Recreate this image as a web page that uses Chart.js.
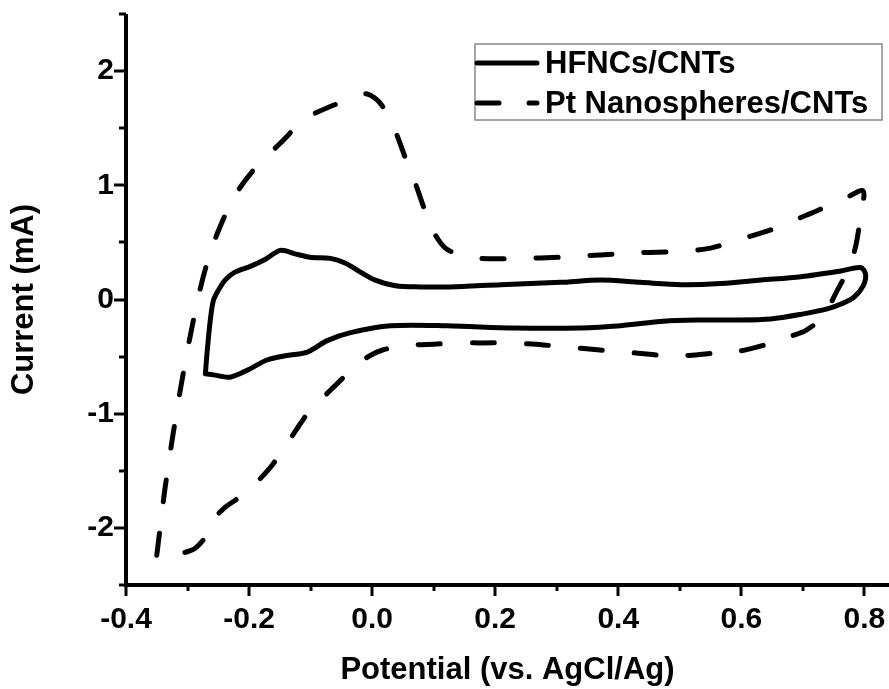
<!DOCTYPE html>
<html>
<head>
<meta charset="utf-8">
<script src="https://cdn.jsdelivr.net/npm/chart.js@4.4.1/dist/chart.umd.min.js"></script>
<style>
  html, body { margin: 0; padding: 0; background: #fff; }
  #wrap { width: 889px; height: 689px; position: relative; }
</style>
</head>
<body>
<div id="wrap"><canvas id="cv"></canvas></div>
<script>
// HFNCs/CNTs cyclic voltammogram (potential V, current mA)
const hfncPotential = [-0.271, -0.268, -0.263, -0.258, -0.250, -0.239, -0.223, -0.198, -0.174, -0.149,
  -0.125, -0.101, -0.068, -0.044, -0.019, 0.005, 0.038, 0.078, 0.127, 0.209,
  0.306, 0.371, 0.436, 0.502, 0.567, 0.632, 0.697, 0.762, 0.794, 0.802,
  0.798, 0.783, 0.762, 0.741, 0.697, 0.648, 0.583, 0.534, 0.474, 0.404,
  0.339, 0.230, 0.122, 0.030, -0.035, -0.073, -0.105, -0.138, -0.171, -0.203,
  -0.231, -0.258, -0.271];
const hfncCurrent = [-0.65, -0.45, -0.18, -0.01, 0.08, 0.17, 0.24, 0.29, 0.35, 0.43,
  0.40, 0.37, 0.36, 0.32, 0.24, 0.17, 0.12, 0.11, 0.11, 0.13,
  0.15, 0.17, 0.15, 0.13, 0.14, 0.17, 0.20, 0.25, 0.28, 0.22,
  0.12, 0.02, -0.04, -0.08, -0.13, -0.17, -0.18, -0.18, -0.19, -0.23,
  -0.25, -0.25, -0.23, -0.23, -0.29, -0.36, -0.46, -0.49, -0.53, -0.62,
  -0.68, -0.66, -0.65];

// Pt Nanospheres/CNTs cyclic voltammogram
const ptPotential = [-0.350, -0.345, -0.337, -0.325, -0.312, -0.296, -0.280, -0.267, -0.250, -0.223,
  -0.190, -0.149, -0.109, -0.068, -0.027, -0.008, 0.013, 0.035, 0.054, 0.070,
  0.087, 0.100, 0.119, 0.144, 0.176, 0.241, 0.306, 0.371, 0.436, 0.502,
  0.550, 0.599, 0.643, 0.684, 0.724, 0.770, 0.798, 0.794, 0.786, 0.775,
  0.754, 0.733, 0.705, 0.681, 0.643, 0.599, 0.555, 0.515, 0.474, 0.432,
  0.388, 0.344, 0.303, 0.261, 0.220, 0.176, 0.135, 0.106, 0.062, 0.038,
  0.018, -0.003, -0.019, -0.044, -0.065, -0.084, -0.101, -0.117, -0.133, -0.149,
  -0.161, -0.182, -0.201, -0.223, -0.239, -0.260, -0.271, -0.288, -0.307];
const ptCurrent = [-2.24, -2.02, -1.67, -1.23, -0.80, -0.33, 0.08, 0.34, 0.60, 0.91,
  1.15, 1.37, 1.58, 1.69, 1.77, 1.80, 1.72, 1.51, 1.24, 1.02,
  0.76, 0.59, 0.45, 0.39, 0.36, 0.36, 0.37, 0.39, 0.41, 0.42,
  0.45, 0.53, 0.60, 0.69, 0.78, 0.89, 0.95, 0.74, 0.47, 0.28,
  0.06, -0.15, -0.27, -0.32, -0.39, -0.45, -0.47, -0.49, -0.49, -0.47,
  -0.45, -0.43, -0.41, -0.39, -0.38, -0.38, -0.38, -0.39, -0.40, -0.42,
  -0.44, -0.49, -0.55, -0.67, -0.78, -0.88, -0.97, -1.09, -1.22, -1.34,
  -1.44, -1.57, -1.67, -1.76, -1.82, -1.94, -2.08, -2.18, -2.22];

const seriesNames = ['HFNCs/CNTs', 'Pt Nanospheres/CNTs'];
const xTickLabels = [-0.4, -0.2, 0.0, 0.2, 0.4, 0.6, 0.8];
const yTickLabels = [-2, -1, 0, 1, 2];

const FONT = '"Liberation Sans", Arial, sans-serif';
const near = (v, list) => list.some(t => Math.abs(t - v) < 1e-6);

// axis lines + major/minor ticks drawn like the original plot
const axesPlugin = {
  id: 'axesPlugin',
  afterDraw(chart) {
    const { ctx, chartArea: a, scales } = chart;
    ctx.save();
    ctx.strokeStyle = '#000';
    ctx.lineCap = 'butt';
    ctx.lineWidth = 3;
    scales.x.ticks.forEach(t => {
      const px = Math.round(scales.x.getPixelForValue(t.value));
      const len = near(t.value, xTickLabels) ? 11 : 6;
      ctx.beginPath(); ctx.moveTo(px, a.bottom); ctx.lineTo(px, a.bottom + len); ctx.stroke();
    });
    scales.y.ticks.forEach(t => {
      const py = Math.round(scales.y.getPixelForValue(t.value));
      const len = near(t.value, yTickLabels) ? 12 : 7;
      ctx.beginPath(); ctx.moveTo(a.left, py); ctx.lineTo(a.left - len, py); ctx.stroke();
    });
    ctx.lineWidth = 4;
    ctx.beginPath();
    ctx.moveTo(a.left, a.top);
    ctx.lineTo(a.left, a.bottom);
    ctx.lineTo(chart.width, a.bottom);
    ctx.stroke();
    ctx.restore();
  }
};

// boxed legend in the upper right corner
const legendPlugin = {
  id: 'legendPlugin',
  afterDraw(chart) {
    const { ctx, chartArea: a } = chart;
    const x0 = a.right - 414, y0 = a.top + 30, w = 407, h = 76;
    ctx.save();
    ctx.strokeStyle = '#888';
    ctx.lineWidth = 1.5;
    ctx.strokeRect(x0, y0, w, h);
    ctx.font = 'bold 31px ' + FONT;
    ctx.fillStyle = '#000';
    ctx.textBaseline = 'middle';
    chart.data.datasets.forEach((ds, i) => {
      const y = y0 + 19 + i * 40;
      ctx.strokeStyle = '#000';
      ctx.lineWidth = 5;
      ctx.lineCap = 'round';
      ctx.setLineDash(i === 0 ? [] : [22, 30]);
      ctx.beginPath(); ctx.moveTo(x0 + 2, y); ctx.lineTo(x0 + 62, y); ctx.stroke();
      ctx.setLineDash([]);
      ctx.fillText(ds.label, x0 + 70, y + 1);
    });
    ctx.restore();
  }
};

const toPoints = (xs, ys) => xs.map((x, i) => ({ x: x, y: ys[i] }));

new Chart(document.getElementById('cv'), {
  type: 'scatter',
  data: {
    datasets: [
      {
        label: seriesNames[0],
        data: toPoints(hfncPotential, hfncCurrent),
        showLine: true,
        borderColor: '#000',
        borderWidth: 5,
        pointRadius: 0,
        tension: 0.3,
        borderCapStyle: 'round',
        borderJoinStyle: 'round'
      },
      {
        label: seriesNames[1],
        data: toPoints(ptPotential, ptCurrent),
        showLine: true,
        borderColor: '#000',
        borderWidth: 5,
        borderDash: [22, 32],
        pointRadius: 0,
        tension: 0.3,
        borderCapStyle: 'round',
        borderJoinStyle: 'round'
      }
    ]
  },
  options: {
    responsive: true,
    maintainAspectRatio: false,
    animation: false,
    layout: { padding: { top: 14, right: 0, left: 0, bottom: 0 } },
    plugins: { legend: { display: false }, tooltip: { enabled: false } },
    scales: {
      x: {
        type: 'linear',
        min: -0.4,
        max: 0.84,
        border: { display: false },
        grid: { display: false, drawTicks: false },
        ticks: {
          stepSize: 0.1,
          includeBounds: false,
          autoSkip: false,
          maxRotation: 0,
          padding: 17,
          color: '#000',
          font: { family: FONT, size: 30, weight: 'bold' },
          callback: v => near(v, xTickLabels) ? v.toFixed(1) : ''
        },
        title: {
          display: true,
          text: 'Potential (vs. AgCl/Ag)',
          color: '#000',
          font: { family: FONT, size: 31, weight: 'bold' },
          padding: { top: 0, bottom: 0 }
        },
        afterFit: s => { s.height = 104; s.paddingLeft = 0; s.paddingRight = 0; }
      },
      y: {
        type: 'linear',
        min: -2.5,
        max: 2.5,
        border: { display: false },
        grid: { display: false, drawTicks: false },
        ticks: {
          stepSize: 0.5,
          autoSkip: false,
          padding: 12,
          color: '#000',
          font: { family: FONT, size: 30, weight: 'bold' },
          callback: v => near(v, yTickLabels) ? String(v) : ''
        },
        title: {
          display: true,
          text: 'Current (mA)',
          color: '#000',
          font: { family: FONT, size: 31, weight: 'bold' },
          padding: { top: 6, bottom: 0 }
        },
        afterFit: s => { s.width = 126; s.paddingTop = 0; s.paddingBottom = 0; }
      }
    }
  },
  plugins: [axesPlugin, legendPlugin]
});
</script>
</body>
</html>
